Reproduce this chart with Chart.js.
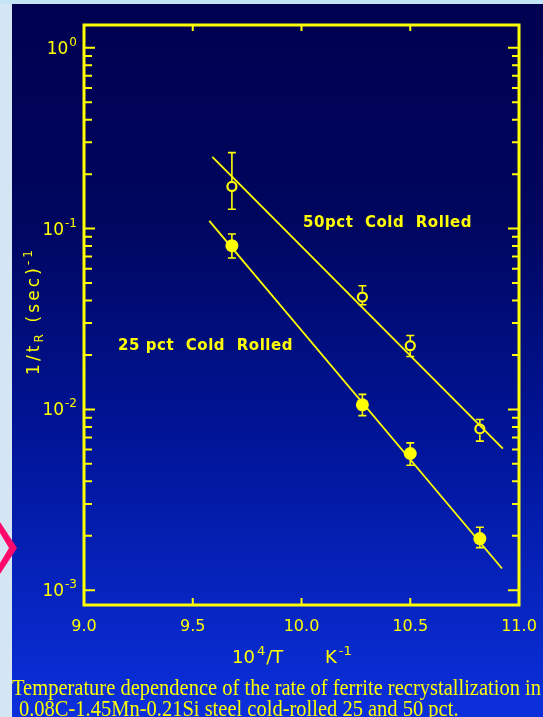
<!DOCTYPE html>
<html>
<head>
<meta charset="utf-8">
<script src="https://cdn.jsdelivr.net/npm/chart.js@4"></script>
<style>
  html, body { margin: 0; padding: 0; width: 543px; height: 717px; overflow: hidden; background: #d4e6f3; }
  #wrap { position: relative; width: 543px; height: 717px; }
  #c { position: absolute; left: 0; top: 0; }
  .cap { position: absolute; white-space: pre; color: #ffff00; font: 19px/19px "Liberation Serif", "Times New Roman", serif; transform-origin: 0 0; }
  #cap1 { left: 12px; top: 675.5px; }
  #cap2 { left: 19px; top: 697.3px; }
</style>
</head>
<body>
<div id="wrap">
  <canvas id="c" width="543" height="717"></canvas>
  <div class="cap" id="cap1">Temperature dependence of the rate of ferrite recrystallization in</div>
  <div class="cap" id="cap2">0.08C-1.45Mn-0.21Si steel cold-rolled 25 and 50 pct.</div>
</div>
<script>
// 10^4/T (K^-1) of each anneal
const x50 = [9.68, 10.28, 10.50, 10.82];
const x25 = [9.68, 10.28, 10.50, 10.82];
// recrystallization rate 1/t_R (1/s)
const y50 = [0.171, 0.0418, 0.0225, 0.0078];
const y25 = [0.0804, 0.0106, 0.0057, 0.00193];
// error bar limits
const err50Low  = [0.128, 0.0379, 0.0196, 0.00667];
const err50High = [0.263, 0.0483, 0.0256, 0.00879];
const err25Low  = [0.0687, 0.00924, 0.00491, 0.00172];
const err25High = [0.0933, 0.0121, 0.00653, 0.00223];
// Arrhenius fit lines (end points)
const fit50X = [9.59, 10.926];
const fit50Y = [0.2495, 0.00607];
const fit25X = [9.576, 10.922];
const fit25Y = [0.1104, 0.001318];
// axis ticks
const xTickValues = [9.0, 9.5, 10.0, 10.5, 11.0];
const xTickLabels = ['9.0', '9.5', '10.0', '10.5', '11.0'];
const yDecadeExponents = [-3, -2, -1, 0];
const yTickExponentLabels = ['-3', '-2', '-1', '0'];
const yMinorMultipliers = [2, 3, 4, 5, 6, 7, 8, 9];
const yMin = Math.pow(10, -3.082);
const yMax = Math.pow(10, 0.126);

const YEL = '#ffff00';
const pts = (xs, ys) => xs.map((x, i) => ({ x: x, y: ys[i] }));

function fitText(ctx, text, x, y, width, font) {
  ctx.font = font;
  ctx.letterSpacing = '0px';
  const w = ctx.measureText(text).width;
  ctx.letterSpacing = ((width - w) / text.length).toFixed(2) + 'px';
  ctx.textAlign = 'left';
  ctx.textBaseline = 'alphabetic';
  ctx.fillText(text, x, y);
  ctx.letterSpacing = '0px';
}

const deco = {
  id: 'deco',
  beforeDraw(chart) {
    const ctx = chart.ctx, W = chart.width, H = chart.height;
    ctx.save();
    ctx.fillStyle = '#d4e6f3';
    ctx.fillRect(0, 0, W, H);
    ctx.fillStyle = '#c4e4f8';
    ctx.fillRect(0, 0, W, 4);
    const g = ctx.createLinearGradient(0, 4, 0, H);
    g.addColorStop(0, '#000050');
    g.addColorStop(0.3, '#00065e');
    g.addColorStop(0.6, '#001496');
    g.addColorStop(1, '#0b30dc');
    ctx.fillStyle = g;
    ctx.fillRect(12, 4, W - 12, H - 4);
    // slide navigation chevron
    ctx.fillStyle = '#ff0a6a';
    ctx.beginPath();
    ctx.moveTo(0, 522); ctx.lineTo(17, 548); ctx.lineTo(0, 574);
    ctx.lineTo(0, 563); ctx.lineTo(9, 548); ctx.lineTo(0, 533);
    ctx.closePath();
    ctx.fill();
    ctx.restore();
  },
  afterDatasetsDraw(chart) {
    const ctx = chart.ctx, xs = chart.scales.x, ys = chart.scales.y;
    ctx.save();
    ctx.strokeStyle = YEL;
    ctx.lineWidth = 1.6;
    chart.data.datasets.forEach((ds) => {
      if (!ds.errLow) return;
      ds.data.forEach((p, j) => {
        const px = xs.getPixelForValue(p.x), py = ys.getPixelForValue(p.y);
        const yt = ys.getPixelForValue(ds.errHigh[j]), yb = ys.getPixelForValue(ds.errLow[j]);
        ctx.beginPath();
        if (ds.hollow) {
          ctx.moveTo(px, yt); ctx.lineTo(px, py - 5.5);
          ctx.moveTo(px, py + 5.5); ctx.lineTo(px, yb);
        } else {
          ctx.moveTo(px, yt); ctx.lineTo(px, yb);
        }
        ctx.moveTo(px - 4, yt); ctx.lineTo(px + 4, yt);
        ctx.moveTo(px - 4, yb); ctx.lineTo(px + 4, yb);
        ctx.stroke();
      });
    });
    ctx.restore();
  },
  afterDraw(chart) {
    const ctx = chart.ctx, a = chart.chartArea, xs = chart.scales.x, ys = chart.scales.y;
    ctx.save();
    ctx.strokeStyle = YEL;
    ctx.fillStyle = YEL;
    // frame
    ctx.lineWidth = 3;
    ctx.strokeRect(a.left, a.top, a.right - a.left, a.bottom - a.top);
    // x ticks, bottom and top, pointing inward
    ctx.lineWidth = 2;
    ctx.beginPath();
    xTickValues.slice(1, -1).forEach((v) => {
      const px = xs.getPixelForValue(v);
      ctx.moveTo(px, a.bottom); ctx.lineTo(px, a.bottom - 7);
      ctx.moveTo(px, a.top); ctx.lineTo(px, a.top + 6);
    });
    // y ticks, left and right
    yDecadeExponents.forEach((e) => {
      const d = Math.pow(10, e);
      const py = ys.getPixelForValue(d);
      ctx.moveTo(a.left, py); ctx.lineTo(a.left + 11, py);
      ctx.moveTo(a.right, py); ctx.lineTo(a.right - 11, py);
      if (e < 0) {
        yMinorMultipliers.forEach((m) => {
          const q = ys.getPixelForValue(m * d);
          ctx.moveTo(a.left, q); ctx.lineTo(a.left + 8, q);
          ctx.moveTo(a.right, q); ctx.lineTo(a.right - 7, q);
        });
      }
    });
    ctx.stroke();

    // y tick labels: 10 with exponent
    ctx.textBaseline = 'alphabetic';
    ctx.textAlign = 'right';
    yDecadeExponents.forEach((e, i) => {
      const py = ys.getPixelForValue(Math.pow(10, e));
      ctx.font = '12px "DejaVu Sans"';
      const sup = yTickExponentLabels[i];
      const sw = ctx.measureText(sup).width;
      ctx.fillText(sup, 77, py - 2);
      ctx.font = '17px "DejaVu Sans"';
      ctx.fillText('10', 77 - sw - 1, py + 6);
    });

    // x axis title: 10^4/T  K^-1
    ctx.textAlign = 'left';
    let x = 232;
    const base = 663;
    ctx.font = '18px "DejaVu Sans"';
    ctx.fillText('10', x, base); x += ctx.measureText('10').width + 2;
    ctx.font = '13px "DejaVu Sans"';
    ctx.fillText('4', x, base - 8); x += ctx.measureText('4').width + 1;
    ctx.font = '18px "DejaVu Sans"';
    ctx.fillText('/T', x, base);
    x = 325;
    ctx.fillText('K', x, base); x += ctx.measureText('K').width + 2;
    ctx.font = '13px "DejaVu Sans"';
    ctx.fillText('-1', x, base - 8);

    // y axis title: 1/t_R (sec)^-1, rotated
    ctx.save();
    ctx.translate(33, 311);
    ctx.rotate(-Math.PI / 2);
    const pieces = [
      { t: '1/t', f: '17px "DejaVu Sans"', dy: 0 },
      { t: 'R', f: '12px "DejaVu Sans"', dy: 4 },
      { t: ' (sec)', f: '17px "DejaVu Sans"', dy: 0 },
      { t: '-1', f: '12px "DejaVu Sans"', dy: -7 }
    ];
    let total = 0, nChars = 0;
    pieces.forEach((p) => { ctx.font = p.f; total += ctx.measureText(p.t).width; nChars += p.t.length; });
    const ls = (128 - total) / nChars;
    ctx.letterSpacing = ls.toFixed(2) + 'px';
    let lx = -64;
    pieces.forEach((p) => {
      ctx.font = p.f;
      ctx.fillText(p.t, lx, 6 + p.dy);
      lx += ctx.measureText(p.t).width;
    });
    ctx.letterSpacing = '0px';
    ctx.restore();

    // series notes
    fitText(ctx, '50pct  Cold  Rolled', 303, 227, 169, 'bold 15px "DejaVu Sans"');
    fitText(ctx, '25 pct  Cold  Rolled', 118, 350, 175, 'bold 15px "DejaVu Sans"');
    ctx.restore();
  }
};

new Chart(document.getElementById('c'), {
  type: 'line',
  data: {
    datasets: [
      { label: '50 pct fit', data: pts(fit50X, fit50Y), borderColor: YEL, borderWidth: 1.8, pointRadius: 0, fill: false, tension: 0 },
      { label: '25 pct fit', data: pts(fit25X, fit25Y), borderColor: YEL, borderWidth: 1.8, pointRadius: 0, fill: false, tension: 0 },
      { label: '50 pct Cold Rolled', data: pts(x50, y50), showLine: false, pointStyle: 'circle', pointRadius: 4.5, pointBorderWidth: 2.2,
        pointBorderColor: YEL, pointBackgroundColor: 'rgba(0,0,0,0)', errLow: err50Low, errHigh: err50High, hollow: true },
      { label: '25 pct Cold Rolled', data: pts(x25, y25), showLine: false, pointStyle: 'circle', pointRadius: 6.5, pointBorderWidth: 0,
        pointBorderColor: YEL, pointBackgroundColor: YEL, errLow: err25Low, errHigh: err25High, hollow: false }
    ]
  },
  options: {
    responsive: false,
    devicePixelRatio: 1,
    animation: false,
    layout: { padding: { left: 0, top: 25, right: 24, bottom: 0 } },
    plugins: { legend: { display: false }, tooltip: { enabled: false } },
    scales: {
      x: {
        type: 'linear', position: 'bottom', min: 9, max: 11,
        grid: { display: false, drawTicks: false }, border: { display: false },
        ticks: {
          stepSize: 0.5, padding: 12, color: YEL, maxRotation: 0, autoSkip: false,
          font: { family: 'DejaVu Sans', size: 16 },
          callback: (v) => { const i = xTickValues.indexOf(Number(v)); return i >= 0 ? xTickLabels[i] : ''; }
        },
        afterFit: (s) => { s.height = 112; s.paddingLeft = 0; s.paddingRight = 0; }
      },
      y: {
        type: 'logarithmic', min: yMin, max: yMax,
        grid: { display: false, drawTicks: false }, border: { display: false },
        ticks: { display: false },
        afterFit: (s) => { s.width = 84; s.paddingTop = 0; s.paddingBottom = 0; }
      }
    }
  },
  plugins: [deco]
});

// caption: stretched serif text spanning the panel width
const cap1 = document.getElementById('cap1'), cap2 = document.getElementById('cap2');
const sx = 529 / cap1.getBoundingClientRect().width;
[cap1, cap2].forEach((el) => { el.style.transform = 'scale(' + sx.toFixed(4) + ', 1.2)'; });
</script>
</body>
</html>
